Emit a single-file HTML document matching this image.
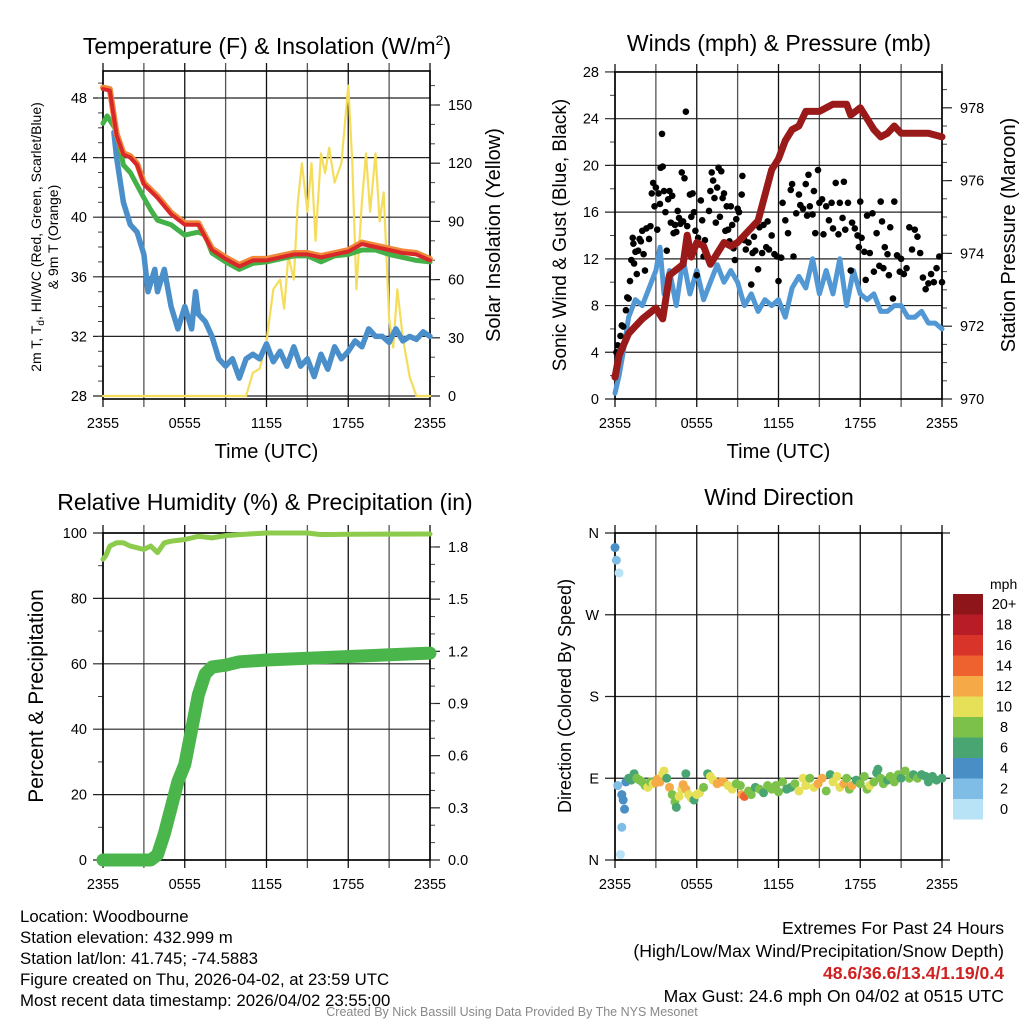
<!DOCTYPE html>
<html><head><meta charset="utf-8">
<style>
body{margin:0;background:#fff;width:1024px;height:1024px;overflow:hidden;font-family:"Liberation Sans",sans-serif}
svg{position:absolute;left:0;top:0}
.info{position:absolute;font-family:"Liberation Sans Narrow","Liberation Sans",sans-serif;font-size:16.8px;line-height:21px;color:#000;white-space:nowrap}
</style></head>
<body>
<svg id="c" width="1024" height="1024" viewBox="0 0 1024 1024"></svg>
<div class="info" style="left:20px;top:906px">Location: Woodbourne<br>Station elevation: 432.999 m<br>Station lat/lon: 41.745; -74.5883<br>Figure created on Thu, 2026-04-02, at 23:59 UTC<br>Most recent data timestamp: 2026/04/02 23:55:00</div>
<div class="info" style="right:20px;top:917px;text-align:right;font-size:17.6px;line-height:22.5px">Extremes For Past 24 Hours<br>(High/Low/Max Wind/Precipitation/Snow Depth)<br><b style="color:#d02020">48.6/36.6/13.4/1.19/0.4</b><br>Max Gust: 24.6 mph On 04/02 at 0515 UTC</div>
<div class="info" style="left:0;width:1024px;top:1005px;text-align:center;font-size:12.5px;color:#888;line-height:14px">Created By Nick Bassill Using Data Provided By The NYS Mesonet</div>
<script>
// ---- data (time in hours since 2355) ----
const tempT=[0,0.5,1,1.5,2,2.5,3,4,5,6,7,8,9,10,11,12,13,14,15,16,17,18,19,20,21,22,23,24];
const tempV=[48.6,48.5,45.5,44.2,44,43.5,42.2,41.3,40.2,39.5,39.5,37.8,37.2,36.7,37.1,37.1,37.3,37.5,37.5,37.3,37.5,37.7,38.2,38,37.8,37.6,37.5,37.1];
const tdT=[0,0.3,1,1.5,2,3,3.5,4,5,6,7,7.5,8,9,10,11,12,13,14,15,16,17,18,19,20,21,22,23,24];
const tdV=[46.3,46.8,45.8,43.5,43,41.3,40.5,39.8,39.5,38.8,39,38.8,37.6,37,36.5,36.9,37,37.2,37.4,37.4,37,37.4,37.5,37.8,37.8,37.5,37.3,37.1,37];
const wcT=[0.8,1,1.5,2,2.5,3,3.3,3.8,4,4.5,5,5.5,6,6.5,6.8,7,7.5,8,8.5,9,9.5,10,10.5,11,11.5,12,12.5,13,13.5,14,14.5,15,15.5,16,16.5,17,17.5,18,18.5,19,19.5,20,20.5,21,21.5,22,22.5,23,23.5,24];
const wcV=[45.7,44,41,39.5,39,37.5,35,36.5,35,36.5,34,32.5,34,32.5,35,33.5,33,32,30.5,30,30.5,29.2,30.5,30.8,30.5,31.5,30.3,31,30,31.3,30,30.5,29.3,30.8,29.8,31.3,30.5,31,31.7,31.3,32.5,32,32,31.6,32.5,31.7,32,31.8,32.3,32];
const solT=[0,10.5,11,11.5,12,12.5,13,13.3,13.6,14,14.3,14.6,15,15.3,15.6,16,16.3,16.6,17,17.5,18,18.3,18.6,19,19.3,19.6,20,20.3,20.6,21,21.3,21.6,22,22.5,23,24];
const solV=[0,0,12,14,28,55,60,45,72,60,100,120,95,120,80,125,115,128,110,120,160,120,55,100,125,95,125,90,105,40,25,55,30,10,0,0];
const windT=[0,0.3,0.6,1,1.5,2,2.5,3,3.3,3.6,4,4.5,5,5.5,6,6.5,7,7.5,8,8.5,9,9.5,10,10.5,11,11.5,12,12.5,13,13.5,14,14.5,15,15.5,16,16.5,17,17.5,18,18.5,19,19.5,20,20.5,21,21.5,22,22.5,23,23.5,24];
const windV=[0.5,2,4,7,8.5,8,9.5,11,13,9,11,8,12,9,11,8.5,10,11.5,10,11,10,8,9,7.5,8.5,8,8.5,7,9.5,10.5,9.5,12,9,11,9,12,8,11,9,8.5,9,7.5,7.5,8,8,7,7,7.5,6.5,6.5,6];
const presT=[0,0.3,1,2,3,3.5,4,5,5.3,5.6,6,6.5,7,7.5,8,8.5,9,10,10.5,11,11.5,12,12.5,13,13.5,14,15,16,17,17.3,18,18.5,19,19.5,20,20.5,21,22,23,24];
const presV=[970.6,971.2,971.8,972.2,972.5,972.2,973.4,973.7,974.5,973.9,974.3,974.2,973.7,974,974.3,974.2,974.3,974.7,974.9,975.6,976.3,976.6,977.1,977.4,977.5,977.9,977.9,978.1,978.1,977.8,978,977.7,977.4,977.2,977.3,977.5,977.3,977.3,977.3,977.2];
const gustT=[0,0.1,0.2,0.4,0.5,0.6,0.8,0.9,1.0,1.1,1.2,1.3,1.35,1.4,1.5,1.6,1.7,1.8,1.9,2.0,2.1,2.2,2.3,2.5,2.6,2.7,2.8,2.9,3.0,3.1,3.2,3.3,3.35,3.45,3.5,3.6,3.7,3.8,3.9,4.0,4.1,4.2,4.3,4.4,4.5,4.6,4.7,4.8,4.9,5.0,5.1,5.2,5.3,5.5,5.6,5.7,5.8,5.9,6.0,6.1,6.3,6.4,6.5,6.6,6.9,7.0,7.1,7.2,7.3,7.4,7.5,7.6,7.7,7.8,7.9,8.0,8.1,8.2,8.3,8.4,8.5,8.6,8.7,8.8,8.9,9.0,9.1,9.3,9.35,9.5,9.6,9.8,10.0,10.1,10.2,10.3,10.5,10.6,10.8,10.9,11.1,11.2,11.3,11.5,11.7,11.9,12.0,12.2,12.3,12.5,12.7,12.9,13.0,13.1,13.3,13.5,13.6,13.8,14.0,14.1,14.2,14.3,14.5,14.6,14.7,14.9,15.0,15.2,15.3,15.5,15.7,15.9,16.0,16.2,16.4,16.5,16.7,16.8,16.9,17.1,17.3,17.4,17.6,17.8,17.9,18.0,18.1,18.3,18.4,18.5,18.7,18.9,19.0,19.2,19.4,19.5,19.6,19.7,19.8,20.0,20.1,20.2,20.4,20.5,20.7,20.9,21.0,21.2,21.4,21.6,21.8,22.0,22.2,22.4,22.6,22.8,23.0,23.2,23.4,23.6,23.8,24];
const gustV=[2,4,4.6,5.4,6.3,6.2,7.6,8.7,8.6,10.1,11.9,13.8,13.3,11.6,12.6,10.7,12.7,13.7,13.5,14.4,12.4,11,14.6,13.7,14.8,17.6,18.5,16.5,18.1,14.5,17.6,16.7,19.8,22.7,19.9,17.8,16,12.7,17.1,17.8,15.1,17.4,14.2,14.9,14.3,16.1,15.5,15,19.4,15.2,18.9,24.6,14.8,17.5,15.6,17.6,16,14.4,10.6,13.8,17,15.3,12.2,13.6,16.1,17.8,19.4,18.7,17.2,15.1,18.1,19.8,15.6,19.5,17.2,17.6,14.4,16.5,14.5,13.5,16.5,14.9,12.9,11.9,15.4,16.3,16,17.5,19.1,13.6,12.8,13.4,9.8,12.5,13.9,12.7,11.1,14.7,12.5,14.9,13,15.2,12.8,14,12.4,12.2,10.1,12.1,16.8,15.3,14.2,17.9,18.4,12.2,15.9,17.5,16.6,16.3,18.4,15.7,19.2,16.5,15.8,17.8,14.2,19.6,16.8,17.1,14.1,16.5,15.3,16.8,14.6,18.5,14.1,16.8,15.5,18.6,14.5,16.8,11,15.1,14.6,14,13,16.9,13.8,12.6,10.2,15.7,12.5,15.9,10.9,14.2,11.4,16.9,15.2,11.2,13,12.4,10.6,14.7,8.6,16.9,12.3,10.9,12,10.7,11.2,14.7,12.8,14.5,13.9,12.5,10.4,9.4,9.9,10.7,10,11.2,12.2,10];
const rhT=[0,0.2,0.5,1,1.5,2,3,3.5,4,4.5,5,6,7,8,9,10,12,15,16,18,24];
const rhV=[92,93,96,97,97,96,95,96,94,97,97.5,98,99,98.5,99.2,99.5,100,100,99.5,99.6,99.7];
const prT=[0,3.5,4,4.5,5,5.5,6,6.5,7,7.5,8,9,10,12,24];
const prV=[0,0,0.03,0.15,0.3,0.45,0.55,0.75,0.95,1.07,1.11,1.12,1.14,1.15,1.19];
const dirT=[0,0.1,0.3,0.2,0.5,0.6,0.7,0.5,0.4,0.8,1.0,1.2,1.4,1.6,1.8,2.0,2.2,2.4,2.6,2.8,3.0,3.1,3.3,3.5,3.6,3.8,4.0,4.2,4.4,4.5,4.7,4.9,5.0,5.2,5.2,5.4,5.6,5.8,6.0,6.2,6.5,6.8,7.0,7.2,7.5,7.8,8.0,8.3,8.6,8.9,9.2,9.3,9.5,9.8,10.0,10.3,10.6,10.9,11.2,11.5,11.8,12.0,12.3,12.6,12.9,13.2,13.5,13.8,14.0,14.3,14.6,14.9,15.2,15.5,15.8,16.0,16.3,16.5,16.8,17.0,17.2,17.4,17.7,18.0,18.3,18.5,18.7,19.0,19.2,19.3,19.5,19.7,20.0,20.2,20.5,20.8,21.0,21.3,21.6,21.9,22.2,22.5,22.8,23.0,23.3,23.6,24];
const dirV=[344,330,316,82,72,66,56,36,6,86,90,88,95,90,88,86,82,80,86,84,85,89,86,95,98,90,80,72,64,58,70,78,83,78,95,72,68,66,72,74,80,95,92,88,84,86,86,82,78,84,82,72,70,76,72,80,78,74,82,78,82,75,86,78,80,84,76,90,82,90,80,84,90,76,94,86,92,80,84,90,78,82,88,84,92,78,82,86,96,100,90,84,88,92,86,94,90,98,90,94,90,94,92,86,92,88,90];
const dirS=[4,3,1,3,4,4,4,2,0,4,7,7,7,8,8,8,9,10,8,10,12,13,12,10,10,6,12,8,8,6,10,10,13,12,6,10,10,6,10,10,8,6,10,10,12,12,13,10,10,8,8,12,14,8,8,6,8,6,8,8,8,8,8,6,6,8,10,10,10,8,10,12,12,8,6,10,10,10,12,8,8,12,6,8,8,8,10,8,6,6,8,8,6,8,8,8,6,8,8,6,8,6,6,6,6,6,6];
const speedColors=['#b8e2f6','#7fbce6','#4a8ec6','#49a673','#7cc24a','#e6df58','#f5a947','#ee6230','#d9342a','#b81c26','#8e1519'];
const speedLabels=['0','2','4','6','8','10','12','14','16','18','20+'];

const S=document.getElementById('c'),NS='http://www.w3.org/2000/svg';
function el(tag,attrs,parent,text){const e=document.createElementNS(NS,tag);for(const k in attrs)e.setAttribute(k,attrs[k]);if(text!==undefined)e.textContent=text;(parent||S).appendChild(e);return e;}
function grp(name){const g=el('g',{});return g;}

function panel(cfg){
  const g=grp(cfg.name);
  const X0=cfg.x0,X1=cfg.x0+327,Y0=cfg.top,Y1=cfg.bottom;
  const xs=t=>X0+t*(X1-X0)/24;
  for(let i=0;i<=8;i++){const x=xs(i*3);
    el('line',{x1:x,x2:x,y1:Y0-8,y2:Y1+8,stroke:i%2?'#555':'#111','stroke-width':1.3},g);}
  const lab=['2355','0555','1155','1755','2355'];
  [0,6,12,18,24].forEach((t,i)=>{const x=xs(t);const tx=el('text',{x:x,y:Y1+29,'font-size':14.5,'text-anchor':'middle'},g,lab[i]);});
  cfg.left.ticks.forEach(v=>{const y=cfg.left.s(v);
    el('line',{x1:X0-10,x2:cfg.gridRight||X1,y1:y,y2:y,stroke:'#222','stroke-width':1.2},g);
    const tx=el('text',{x:X0-16,y:y+5,'font-size':14.5,'text-anchor':'end'},g,cfg.left.fmt?cfg.left.fmt(v):v);});
  (cfg.left.minor||[]).forEach(v=>{const y=cfg.left.s(v);el('line',{x1:X0-5,x2:X0,y1:y,y2:y,stroke:'#444','stroke-width':1},g);});
  if(cfg.right){cfg.right.ticks.forEach(v=>{const y=cfg.right.s(v);
    el('line',{x1:X1,x2:X1+10,y1:y,y2:y,stroke:'#222','stroke-width':1.2},g);
    const tx=el('text',{x:X1+18,y:y+5,'font-size':14.5},g,cfg.right.fmt?cfg.right.fmt(v):v);});
   (cfg.right.minor||[]).forEach(v=>{const y=cfg.right.s(v);el('line',{x1:X1,x2:X1+5,y1:y,y2:y,stroke:'#444','stroke-width':1},g);});}
  el('rect',{x:X0,y:Y0,width:X1-X0,height:Y1-Y0,fill:'none',stroke:'#000','stroke-width':1.6},g);
  const tt=el('text',{x:cfg.titleX,y:cfg.titleY,'font-size':23,'text-anchor':'middle'},g);tt.innerHTML=cfg.title;
  
  if(cfg.xTitle){const xt=el('text',{x:(X0+X1)/2,y:Y1+59,'font-size':20,'text-anchor':'middle'},g,'Time (UTC)');}
  return {g,xs,X0,X1,Y0,Y1};
}
function line(g,xs,ys,T,V,color,w,name){
  const d=T.map((t,i)=>(i?'L':'M')+xs(t).toFixed(1)+','+ys(V[i]).toFixed(1)).join('');
  const p=el('path',{d:d,fill:'none',stroke:color,'stroke-width':w,'stroke-linejoin':'round','stroke-linecap':'round'},g);
  return p;
}
function range(a,b,s){const r=[];for(let v=a;v<=b+1e-9;v+=s)r.push(+v.toFixed(3));return r;}

// Panel 1
const yT=v=>396-(v-28)*14.9, ySol=v=>396-v*1.94;
const p1=panel({name:'temperature-panel',x0:103,top:71,bottom:399,left:{s:yT,ticks:[28,32,36,40,44,48],minor:range(29,49,1)},
  right:{s:ySol,ticks:[0,30,60,90,120,150],minor:range(10,160,10)},title:'Temperature (F) &amp; Insolation (W/m<tspan dy="-9" font-size="14">2</tspan><tspan dy="9">)</tspan>',titleX:267,titleY:54,xTitle:true});
line(p1.g,p1.xs,ySol,solT,solV,'#f5dd5c',2.2,'solar-insolation-line');
line(p1.g,p1.xs,yT,wcT,wcV,'#4a8fca',5.5,'wind-chill-line');
line(p1.g,p1.xs,yT,tdT,tdV,'#44b048',5,'dewpoint-line');
line(p1.g,p1.xs,yT,tempT,tempV.map(v=>v+0.1),'#f08a3a',6,'temp-9m-line');
line(p1.g,p1.xs,yT,tempT,tempV,'#d8282a',4,'temperature-line');
{const t=el('text',{transform:'translate(41,237) rotate(-90)','font-size':14,'text-anchor':'middle'},p1.g);t.innerHTML='2m T, T<tspan dy="3" font-size="10">d</tspan><tspan dy="-3">, HI/WC (Red, Green, Scarlet/Blue)</tspan>';
 const t2=el('text',{transform:'translate(58,237) rotate(-90)','font-size':14,'text-anchor':'middle'},p1.g,'& 9m T (Orange)');
 const t3=el('text',{transform:'translate(500,235) rotate(-90)','font-size':20,'text-anchor':'middle'},p1.g,'Solar Insolation (Yellow)');}

// Panel 2
const yW=v=>399-v*11.68, yP=v=>399-(v-970)*36.4;
const p2=panel({name:'winds-panel',x0:615,top:72,bottom:399,left:{s:yW,ticks:[0,4,8,12,16,20,24,28],minor:range(2,26,2)},
  right:{s:yP,ticks:[970,972,974,976,978],minor:range(970.5,978.5,0.5)},title:'Winds (mph) &amp; Pressure (mb)',titleX:779,titleY:51,xTitle:true});
line(p2.g,p2.xs,yW,windT,windV,'#5298d4',5,'sonic-wind-line');
gustT.forEach((t,i)=>{const c=el('circle',{cx:p2.xs(t),cy:yW(gustV[i]),r:3.3,fill:'#000'},p2.g);});
line(p2.g,p2.xs,yP,presT,presV,'#9a1a1a',7,'pressure-line');
{const t=el('text',{transform:'translate(566,235) rotate(-90)','font-size':19,'text-anchor':'middle'},p2.g,'Sonic Wind & Gust (Blue, Black)');
 const t3=el('text',{transform:'translate(1015,235) rotate(-90)','font-size':20,'text-anchor':'middle'},p2.g,'Station Pressure (Maroon)');}

// Panel 3
const yRH=v=>860-v*3.27, yPr=v=>860-v*173.9;
const p3=panel({name:'humidity-panel',x0:103,top:533,bottom:860,left:{s:yRH,ticks:[0,20,40,60,80,100],minor:range(10,90,20)},
  right:{s:yPr,ticks:[0,0.3,0.6,0.9,1.2,1.5,1.8],fmt:v=>v.toFixed(1),minor:range(0.1,1.8,0.1)},title:'Relative Humidity (%) &amp; Precipitation (in)',titleX:265,titleY:510,xTitle:false});
line(p3.g,p3.xs,yPr,prT,prV,'#4ab54a',13,'precipitation-line');
line(p3.g,p3.xs,yRH,rhT,rhV,'#8ccb4c',5,'humidity-line');
{const t=el('text',{transform:'translate(43,696) rotate(-90)','font-size':21,'text-anchor':'middle'},p3.g,'Percent & Precipitation');}

// Panel 4
const yD=d=>860-d*(327/360);
const dirLab={0:'N',90:'E',180:'S',270:'W',360:'N'};
const p4=panel({name:'wind-direction-panel',x0:615,top:533,bottom:860,gridRight:950,left:{s:yD,ticks:[0,90,180,270,360],fmt:v=>dirLab[v]},
  title:'Wind Direction',titleX:779,titleY:505,xTitle:false});
dirT.forEach((t,i)=>{const b=Math.min(10,Math.floor(dirS[i]/2));const c=el('circle',{cx:p4.xs(t),cy:yD(dirV[i]),r:4.5,fill:speedColors[b]},p4.g);});
{const t=el('text',{transform:'translate(571,696) rotate(-90)','font-size':18,'text-anchor':'middle'},p4.g,'Direction (Colored By Speed)');}
const lg=grp('speed-legend');
el('text',{x:990,y:589,'font-size':14},lg,'mph');
speedColors.forEach((c,i)=>{const k=10-i;const y=594+i*20.5;
  const r=el('rect',{x:953,y:y,width:30,height:20.5,fill:speedColors[k]},lg);
  const tx=el('text',{x:1004,y:y+15,'font-size':14.5,'text-anchor':'middle'},lg,speedLabels[k]);});
</script>
</body></html>
